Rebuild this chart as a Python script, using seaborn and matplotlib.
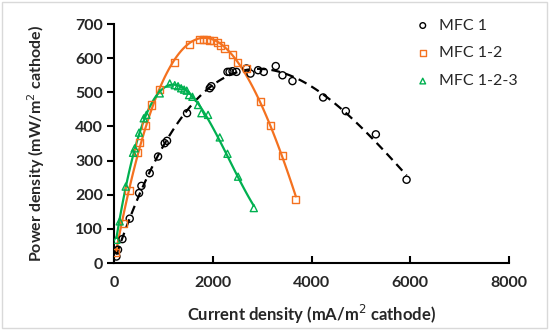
import matplotlib.pyplot as plt
import seaborn as sns
import numpy as np
import pandas as pd
from matplotlib.patches import Rectangle

# MFC 1 (circles, dashed trend line)
mfc1_x = [49, 81, 170, 318, 507, 555, 723, 892, 1027, 1074, 1479, 1939, 1970,
          2298, 2340, 2400, 2480, 2683, 2764, 2918, 3033, 3276, 3412, 3614,
          4235, 4695, 5303, 5925]
mfc1_y = [19, 39, 70, 130, 205, 226, 263, 312, 351, 358, 439, 512, 518,
          560, 560, 562, 560, 570, 555, 565, 560, 577, 550, 533,
          485, 445, 377, 244]

# MFC 1-2 (squares)
mfc12_x = [35, 197, 304, 474, 521, 642, 758, 912, 1230, 1534, 1740, 1810, 1880,
           1940, 2006, 2087, 2156, 2243, 2391, 2500, 2683, 2966, 3169, 3412, 3682]
mfc12_y = [32, 117, 212, 325, 354, 404, 463, 509, 587, 641, 656, 656, 655,
           652, 653, 645, 638, 629, 612, 587, 570, 473, 404, 314, 185]

# MFC 1-2-3 (triangles)
mfc123_x = [49, 115, 237, 385, 419, 507, 602, 656, 926, 1129, 1230, 1297, 1360,
            1420, 1473, 1520, 1588, 1702, 1770, 1905, 2142, 2298, 2513, 2831]
mfc123_y = [68, 122, 224, 323, 336, 382, 424, 434, 497, 526, 521, 518, 512,
            508, 505, 492, 487, 463, 439, 434, 368, 320, 253, 161]

series = [
    ('MFC 1', mfc1_x, mfc1_y, 'black', 'o', (0, (4, 2.5)), 3),
    ('MFC 1-2', mfc12_x, mfc12_y, '#F4711F', 's', '-', 3),
    ('MFC 1-2-3', mfc123_x, mfc123_y, '#00B050', '^', '-', 3),
]

sns.set_style('white')
plt.rcParams['font.family'] = ['Lato', 'DejaVu Sans']

fig = plt.figure(figsize=(5.5, 3.3), dpi=100)
ax = fig.add_axes([0.2073, 0.203, 0.7182, 0.724])

for name, xs, ys, color, marker, ls, order in series:
    df = pd.DataFrame({'x': xs, 'y': ys})
    sns.regplot(data=df, x='x', y='y', order=order, ci=None, scatter=False,
                truncate=True, ax=ax,
                line_kws={'color': color, 'linestyle': ls, 'linewidth': 1.6})
    sns.scatterplot(data=df, x='x', y='y', marker=marker, s=26,
                    facecolors='none', edgecolor=color, linewidth=1.0,
                    ax=ax, label=name, zorder=3)

ax.set_xlim(0, 8000)
ax.set_ylim(0, 700)
ax.set_xticks(np.arange(0, 8001, 2000))
ax.set_yticks(np.arange(0, 701, 100))
for lab in ax.get_xticklabels() + ax.get_yticklabels():
    lab.set_fontweight('bold')
    lab.set_fontsize(11.5)

ax.set_xlabel('Current density (mA/m$^2$ cathode)', fontsize=12, fontweight='bold', labelpad=10)
ax.set_ylabel('Power density (mW/m$^2$ cathode)', fontsize=11.5, fontweight='bold', labelpad=20)

for side in ['top', 'right']:
    ax.spines[side].set_visible(False)
for side in ['left', 'bottom']:
    ax.spines[side].set_color('black')
    ax.spines[side].set_linewidth(1.5)
ax.tick_params(axis='y', direction='out', length=5, width=1.5, color='black', pad=3)
ax.tick_params(axis='x', direction='in', length=5, width=1.5, color='black', pad=9)
ax.tick_params(left=True, bottom=True)

leg = ax.legend(loc='upper left', bbox_to_anchor=(0.725, 1.05), frameon=False,
                fontsize=11.5, handletextpad=0.0, labelspacing=0.85,
                markerscale=0.8, borderaxespad=0)

fig.patches.append(Rectangle((0.004, 0.006), 0.99, 0.988, transform=fig.transFigure,
                             fill=False, edgecolor='#D9D9D9', linewidth=1))

fig.savefig('out.png', dpi=100)
